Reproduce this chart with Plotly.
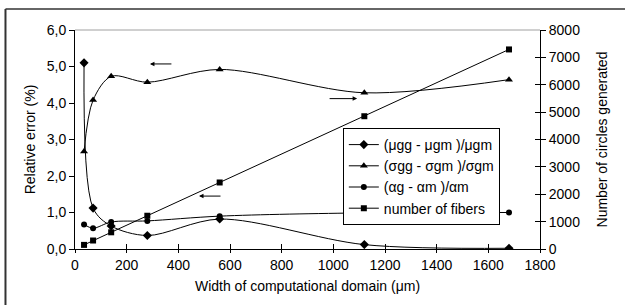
import plotly.graph_objects as go

# Data
widths = [35, 70, 140, 280, 560, 1120, 1680]
mu_err = [5.10, 1.12, 0.63, 0.37, 0.82, 0.12, 0.02]
sigma_err = [2.67, 4.08, 4.73, 4.57, 4.92, 4.28, 4.64]
alpha_err = [0.67, 0.57, 0.74, 0.77, 0.90, 0.99, 1.00]
n_fibers = [150, 310, 610, 1215, 2430, 4850, 7290]

names = ["(μgg - μgm )/μgm", "(σgg - σgm )/σgm", "(αg - αm )/αm", "number of fibers"]

x_ticks = [0, 200, 400, 600, 800, 1000, 1200, 1400, 1600, 1800]
y_ticks = [0, 1, 2, 3, 4, 5, 6]
y_tick_labels = ["0,0", "1,0", "2,0", "3,0", "4,0", "5,0", "6,0"]
y2_ticks = [0, 1000, 2000, 3000, 4000, 5000, 6000, 7000, 8000]
y2_tick_labels = ["0", "1000", "2000", "3000", "4000", "5000", "6000", "7000", "8000"]

FONT = "Liberation Sans, Arial, sans-serif"
FS = 14
BLACK = "#000000"

fig = go.Figure()

fig.add_trace(go.Scatter(x=widths, y=mu_err, name=names[0], mode="lines+markers",
                         line=dict(color=BLACK, width=1, shape="spline", smoothing=0.9),
                         marker=dict(symbol="diamond", size=7, color=BLACK)))
fig.add_trace(go.Scatter(x=widths, y=sigma_err, name=names[1], mode="lines+markers",
                         line=dict(color=BLACK, width=1, shape="spline", smoothing=0.9),
                         marker=dict(symbol="triangle-up", size=7, color=BLACK)))
fig.add_trace(go.Scatter(x=widths, y=alpha_err, name=names[2], mode="lines+markers",
                         line=dict(color=BLACK, width=1, shape="spline", smoothing=0.9),
                         marker=dict(symbol="circle", size=6, color=BLACK)))
fig.add_trace(go.Scatter(x=widths, y=n_fibers, name=names[3], mode="lines+markers",
                         yaxis="y2",
                         line=dict(color=BLACK, width=1),
                         marker=dict(symbol="square", size=6, color=BLACK)))

# helper traces for crossing tick marks
fig.add_trace(go.Scatter(x=[None], y=[None], xaxis="x3", yaxis="y", showlegend=False, hoverinfo="skip"))
fig.add_trace(go.Scatter(x=[None], y=[None], xaxis="x", yaxis="y3", showlegend=False, hoverinfo="skip"))

fig.update_layout(
    width=625, height=305,
    margin=dict(l=75, r=85, t=30, b=56),
    paper_bgcolor="white", plot_bgcolor="white",
    font=dict(family=FONT, size=FS, color=BLACK),
    xaxis=dict(range=[0, 1800], tickvals=x_ticks, ticks="outside", ticklen=3,
               tickcolor=BLACK, showline=True, linecolor=BLACK, linewidth=1,
               showgrid=False, zeroline=False, automargin=False,
               title=dict(text="Width of computational domain (μm)", font=dict(size=FS), standoff=9)),
    xaxis3=dict(range=[0, 1800], tickvals=x_ticks, ticks="inside", ticklen=5,
                tickcolor=BLACK, overlaying="x", anchor="y", showticklabels=False,
                showline=False, showgrid=False, zeroline=False),
    yaxis=dict(range=[0, 6], tickvals=y_ticks, ticktext=y_tick_labels, ticks="outside",
               ticklen=5, tickcolor=BLACK, showline=True, linecolor=BLACK, linewidth=1,
               showgrid=False, zeroline=False, automargin=False,
               title=dict(text="Relative error (%)", font=dict(size=FS), standoff=7)),
    yaxis2=dict(range=[0, 8000], tickvals=y2_ticks, ticktext=y2_tick_labels, overlaying="y",
                side="right", ticks="outside", ticklen=5, tickcolor=BLACK, showline=True,
                linecolor=BLACK, linewidth=1, showgrid=False, zeroline=False, automargin=False,
                title=dict(text="Number of circles generated", font=dict(size=FS), standoff=18)),
    yaxis3=dict(range=[0, 8000], tickvals=y2_ticks, overlaying="y", side="right", anchor="x",
                ticks="inside", ticklen=5, tickcolor=BLACK, showticklabels=False,
                showline=False, showgrid=False, zeroline=False),
    legend=dict(x=0.576, y=0.5525, xanchor="left", yanchor="top",
                bgcolor="white", bordercolor=BLACK, borderwidth=1,
                font=dict(size=FS), tracegroupgap=0, itemwidth=30),
    showlegend=True,
)

# top gray border of plot area
fig.add_shape(type="line", xref="paper", yref="paper", x0=0, x1=1, y0=1, y1=1,
              line=dict(color="#a0a0a0", width=1))
# outer frame (left and top)
fig.add_shape(type="line", xref="paper", yref="paper", x0=-0.1495, x1=-0.1495, y0=1.0959, y1=-0.26,
              line=dict(color="#333333", width=2))
fig.add_shape(type="line", xref="paper", yref="paper", x0=-0.1495, x1=1.19, y0=1.0959, y1=1.0959,
              line=dict(color="#333333", width=1.5))

# arrows
arrow_common = dict(showarrow=True, arrowhead=2, arrowsize=0.9, arrowwidth=1,
                    arrowcolor=BLACK, text="", ay=0, axref="pixel", ayref="pixel")
fig.add_annotation(x=290, y=5.07, ax=23, **arrow_common)
fig.add_annotation(x=1092, y=4.12, ax=-29, **arrow_common)
fig.add_annotation(x=480, y=1.45, ax=23, **arrow_common)

fig.write_html("out.html", config={"displayModeBar": False},
               post_script="document.body.style.margin='0';document.body.style.overflow='hidden';")
